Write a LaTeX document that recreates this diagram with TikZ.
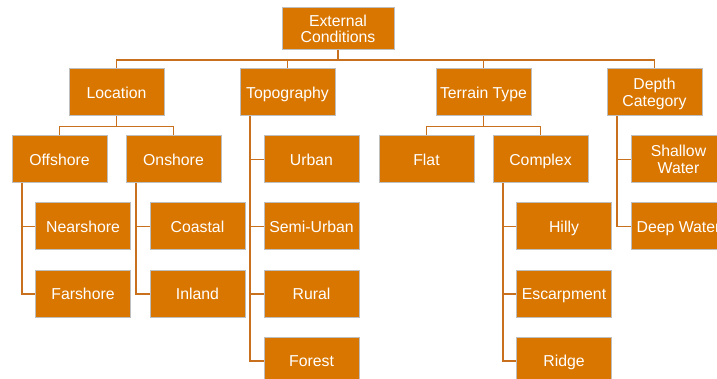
\documentclass[tikz,border=0pt]{standalone}
\usepackage{fontspec}
\setmainfont{Liberation Sans}
\definecolor{boxorange}{RGB}{217,118,0}
\definecolor{boxedge}{RGB}{190,190,190}
\definecolor{conncol}{RGB}{200,112,30}
\newcommand\capl[1]{\raisebox{0pt}[11.3pt][0pt]{#1}}
\tikzset{
  box/.style={rectangle, fill=boxorange, draw=boxedge, line width=1pt,
    minimum width=95pt, minimum height=47pt, inner sep=1pt, text=white,
    align=center, font=\fontsize{15.8}{16.5}\selectfont},
  conn/.style={draw=conncol, line width=1.3pt}
}
\begin{document}
\begin{tikzpicture}[x=1pt,y=-1pt]
\useasboundingbox (0,0) rectangle (717,379);
\clip (0,0) rectangle (717,379);
% level 0
\node[box, minimum width=112pt, minimum height=42pt] (ext) at (338,29) {\capl{External}\\\capl{Conditions}};
% level 1
\node[box] (loc) at (116.5,92.5) {\capl{Location}};
\node[box] (topo) at (287.5,92.5) {\capl{Topography}};
\node[box] (terr) at (483.5,92.5) {\capl{Terrain Type}};
\node[box] (depth) at (654.5,92.5) {\capl{Depth}\\\capl{Category}};
% Location children
\node[box] (off) at (59.5,159.5) {\capl{Offshore}};
\node[box] (on) at (173.5,159.5) {\capl{Onshore}};
\node[box] (near) at (83,226.5) {\capl{Nearshore}};
\node[box] (far) at (83,294) {\capl{Farshore}};
\node[box] (coast) at (197.5,226.5) {\capl{Coastal}};
\node[box] (inl) at (197.5,294) {\capl{Inland}};
% Topography children
\node[box] (urb) at (311.5,159.5) {\capl{Urban}};
\node[box] (semi) at (311.5,226.5) {\capl{Semi-Urban}};
\node[box] (rur) at (311.5,294) {\capl{Rural}};
\node[box] (for) at (311.5,361) {\capl{Forest}};
% Terrain children
\node[box] (flat) at (426.5,159.5) {\capl{Flat}};
\node[box] (comp) at (540.5,159.5) {\capl{Complex}};
\node[box] (hil) at (564,226.5) {\capl{Hilly}};
\node[box] (esc) at (564,294) {\capl{Escarpment}};
\node[box] (rid) at (564,361) {\capl{Ridge}};
% Depth children
\node[box] (shal) at (678.5,159.5) {\capl{Shallow}\\\capl{Water}};
\node[box] (deep) at (678.5,226.5) {\capl{Deep Water}};
% connectors level 0 -> 1
\coordinate (bus0) at (338,60);
\draw[conn] (ext.south) -- (bus0);
\draw[conn] (loc.north) |- (bus0) -| (depth.north);
\draw[conn] (topo.north) -- (topo.north |- bus0);
\draw[conn] (terr.north) -- (terr.north |- bus0);
% Location -> Offshore/Onshore
\coordinate (bus1) at (116.5,126.5);
\draw[conn] (loc.south) -- (bus1);
\draw[conn] (off.north) |- (bus1) -| (on.north);
% Terrain -> Flat/Complex
\coordinate (bus2) at (483.5,126.5);
\draw[conn] (terr.south) -- (bus2);
\draw[conn] (flat.north) |- (bus2) -| (comp.north);
% Offshore
\coordinate (offx) at (22,0);
\draw[conn] (off.south -| offx) |- (near.west);
\draw[conn] (off.south -| offx) |- (far.west);
% Onshore
\coordinate (onx) at (136,0);
\draw[conn] (on.south -| onx) |- (coast.west);
\draw[conn] (on.south -| onx) |- (inl.west);
% Topography
\coordinate (topx) at (250,0);
\draw[conn] (topo.south -| topx) |- (urb.west);
\draw[conn] (topo.south -| topx) |- (semi.west);
\draw[conn] (topo.south -| topx) |- (rur.west);
\draw[conn] (topo.south -| topx) |- (for.west);
% Complex
\coordinate (compx) at (503,0);
\draw[conn] (comp.south -| compx) |- (hil.west);
\draw[conn] (comp.south -| compx) |- (esc.west);
\draw[conn] (comp.south -| compx) |- (rid.west);
% Depth
\coordinate (depx) at (617,0);
\draw[conn] (depth.south -| depx) |- (shal.west);
\draw[conn] (depth.south -| depx) |- (deep.west);
\end{tikzpicture}
\end{document}
